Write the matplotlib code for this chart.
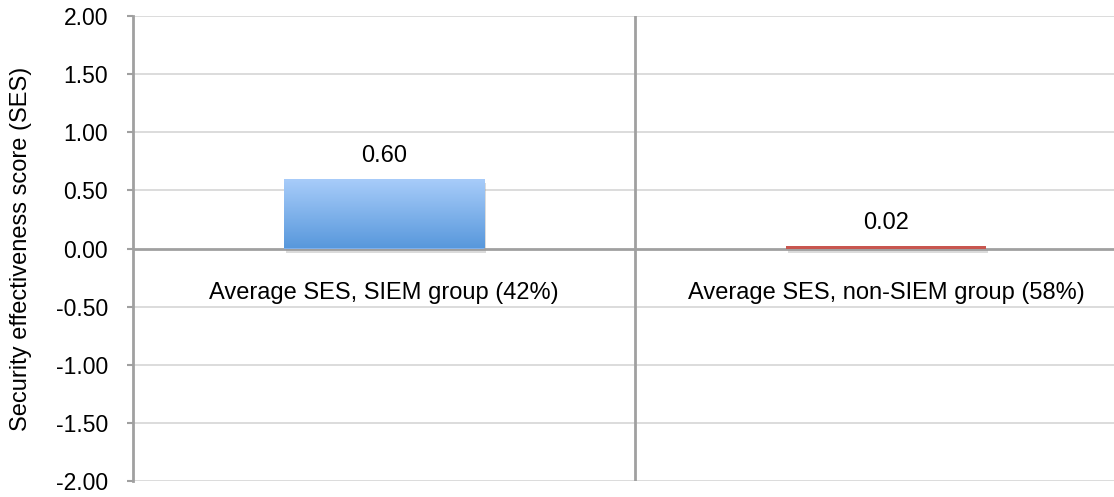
import matplotlib
matplotlib.use("Agg")
import matplotlib.pyplot as plt
import matplotlib.patheffects as pe
import numpy as np
from matplotlib.colors import LinearSegmentedColormap

categories = ["Average SES, SIEM group (42%)", "Average SES, non-SIEM group (58%)"]
values = [0.60, 0.02]
value_labels = ["0.60", "0.02"]
yticks = [2.0, 1.5, 1.0, 0.5, 0.0, -0.5, -1.0, -1.5, -2.0]

plt.rcParams['font.family'] = ['Liberation Sans', 'DejaVu Sans']

W, H = 1114, 497
fig = plt.figure(figsize=(W / 100, H / 100), dpi=100)
left, right, top, bottom = 133, 1137, 16, 481
ax = fig.add_axes([left / W, 1 - bottom / H, (right - left) / W, (bottom - top) / H])
ax.set_xlim(-0.5, 1.5)
ax.set_ylim(-2, 2)

for y in yticks:
    if y == 0:
        continue
    ax.axhline(y, color='#d9d9d9', lw=1.3, zorder=0)
ax.axhline(0, color='#a0a0a0', lw=2.0, zorder=1)
ax.axvline(0.5, color='#a0a0a0', lw=2.0, zorder=1)

x = np.arange(len(categories))
width = 0.40
shadow = [pe.SimplePatchShadow(offset=(1.5, -3), shadow_rgbFace='#9a9a9a', alpha=0.35), pe.Normal()]
bars = ax.bar(x, values, width=width, color=['#7fb0ec', '#c8564f'], zorder=3,
              linewidth=0, path_effects=shadow)

# gradient fill for the first bar
cmap = LinearSegmentedColormap.from_list('g', ['#5898dc', '#a9cdfa'])
b0 = bars[0]
grad = np.linspace(0, 1, 256).reshape(-1, 1)
im = ax.imshow(grad, cmap=cmap, origin='lower', aspect='auto',
               extent=[b0.get_x(), b0.get_x() + b0.get_width(), 0, values[0]], zorder=4)
im.set_clip_path(b0)
ax.set_xlim(-0.5, 1.5)
ax.set_ylim(-2, 2)

fs = 17
for xi, v, lab in zip(x, values, value_labels):
    ax.text(xi, v + 0.20, lab, ha='center', va='center', fontsize=fs, color='#000000', zorder=5)

for xi, cat in zip(x, categories):
    ax.text(xi, -0.385, cat, ha='center', va='center', fontsize=fs, color='#000000', zorder=5)

ax.set_yticks(yticks)
ax.set_yticklabels([f"{t:.2f}" for t in yticks], fontsize=16.5)
ax.set_xticks([])
ax.tick_params(axis='y', direction='out', length=4.5, width=1.5, color='#a0a0a0', pad=13.5)
for s in ['top', 'right', 'bottom']:
    ax.spines[s].set_visible(False)
ax.spines['left'].set_color('#a0a0a0')
ax.spines['left'].set_linewidth(2.0)
ax.set_ylabel("Security effectiveness score (SES)", fontsize=fs)
ax.yaxis.set_label_coords(-(133 - 32) / (right - left), 0.5)

fig.savefig("out.png", dpi=100)
